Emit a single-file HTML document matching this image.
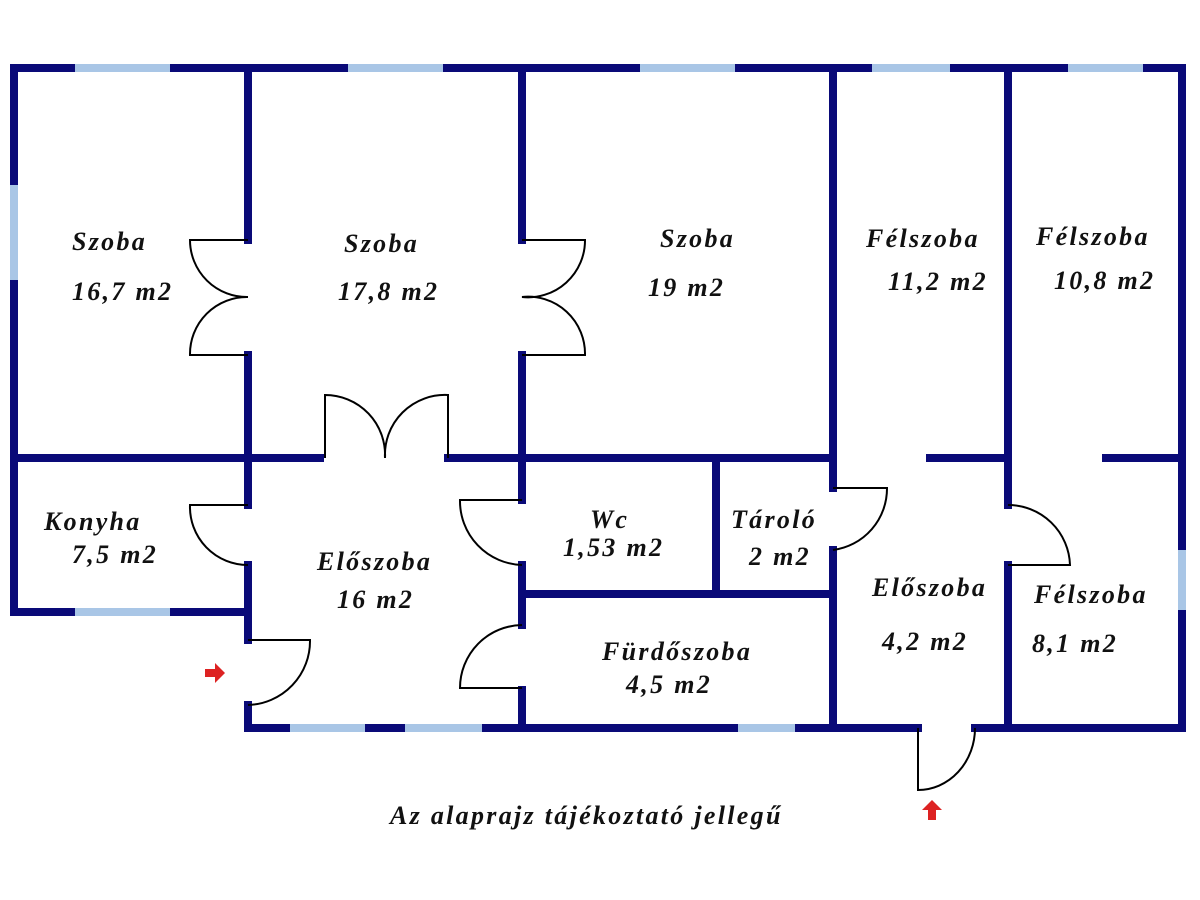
<!DOCTYPE html>
<html><head><meta charset="utf-8"><style>body{margin:0;background:#fff}svg{display:block}
text{font-family:"Liberation Serif",serif;font-style:italic;font-weight:bold;font-size:26px;letter-spacing:2.3px;fill:#111}</style></head>
<body><svg width="1200" height="900" viewBox="0 0 1200 900">
<rect width="1200" height="900" fill="#fff"/>
<g stroke="#0a0a78" stroke-width="8" fill="none" stroke-linecap="square">
<path d="M14 68H1182V728H975M918 728H248V705M248 640V565M248 505V355M248 240V68M14 68V612H248"/>
<path d="M14 458H320M448 458H833"/>
<path d="M522 68V240M522 355V500M522 565V625M522 690V728"/>
<path d="M833 68V488M833 550V728"/>
<path d="M1008 68V505M1008 565V728"/>
<path d="M716 458V590M522 594H833M930 458H1008M1106 458H1182"/>
</g>
<g stroke="#a9c6e6" stroke-width="8">
<path d="M75 68H170M348 68H443M640 68H735M872 68H950M1068 68H1143M14 185V280M75 612H170M290 728H365M405 728H482M738 728H795M1182 550V610"/>
</g>
<g stroke="#000" stroke-width="2" fill="none">
<path d="M248 240H190A57 57 0 0 0 248 297A57 57 0 0 0 190 355H248"/>
<path d="M522 240H585A57 57 0 0 1 522 297A57 57 0 0 1 585 355H522"/>
<path d="M325 458V395A60 60 0 0 1 385 458A60 60 0 0 1 448 395V458"/>
<path d="M248 505H190A58 58 0 0 0 248 565"/>
<path d="M248 640H310A64 64 0 0 1 248 705"/>
<path d="M522 500H460A64 64 0 0 0 522 565"/>
<path d="M522 625A63 63 0 0 0 460 688H522"/>
<path d="M833 488H887A62 62 0 0 1 833 550"/>
<path d="M1008 505A62 62 0 0 1 1070 565H1008"/>
<path d="M918 728V790A57 62 0 0 0 975 728"/>
</g>
<g fill="#d22">
<path d="M205 669h10v-6l10 10-10 10v-6h-10z"/>
<path d="M928 820v-10h-6l10-10 10 10h-6v10z"/>
</g>
<text x="72" y="250">Szoba</text><text x="72" y="300">16,7 m2</text>
<text x="344" y="252">Szoba</text><text x="338" y="300">17,8 m2</text>
<text x="660" y="247">Szoba</text><text x="648" y="296">19 m2</text>
<text x="866" y="247">Félszoba</text><text x="888" y="290">11,2 m2</text>
<text x="1036" y="245">Félszoba</text><text x="1054" y="289">10,8 m2</text>
<text x="44" y="530">Konyha</text><text x="72" y="563">7,5 m2</text>
<text x="317" y="570">Előszoba</text><text x="337" y="608">16 m2</text>
<text x="590" y="528">Wc</text><text x="563" y="556">1,53 m2</text>
<text x="731" y="528">Tároló</text><text x="749" y="565">2 m2</text>
<text x="872" y="596">Előszoba</text><text x="882" y="650">4,2 m2</text>
<text x="1034" y="603">Félszoba</text><text x="1032" y="652">8,1 m2</text>
<text x="602" y="660">Fürdőszoba</text><text x="626" y="693">4,5 m2</text>
<text x="390" y="824">Az alaprajz tájékoztató jellegű</text>
</svg></body></html>
